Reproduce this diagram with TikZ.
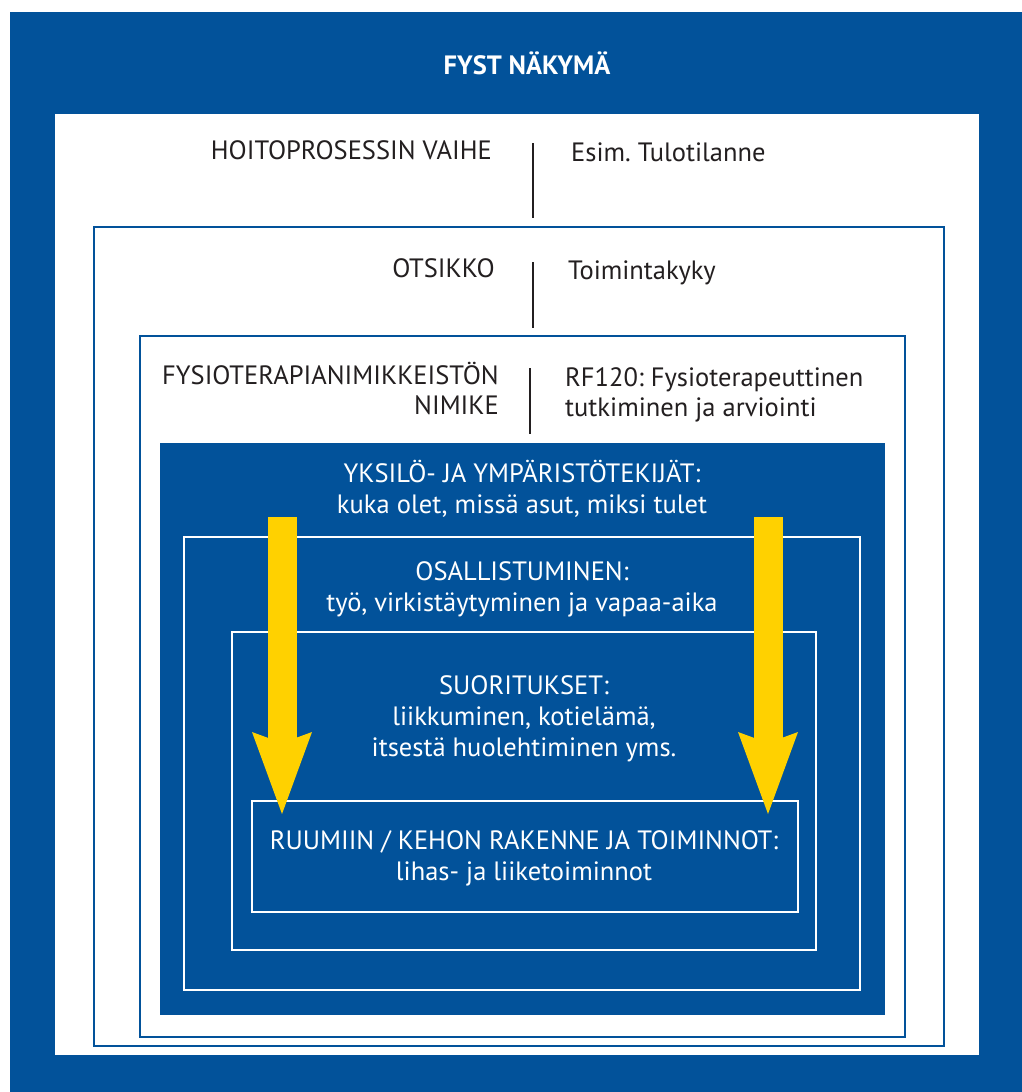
\documentclass[tikz,border=0pt]{standalone}
\usepackage{fontspec}
\setmainfont{PT Sans}
\usetikzlibrary{arrows.meta}
\definecolor{fystblue}{RGB}{2,82,154}
\definecolor{fystyellow}{RGB}{255,209,0}
\definecolor{fystgray}{RGB}{35,31,32}
\frenchspacing

\begin{document}
\begin{tikzpicture}[x=1pt,y=-1pt,line join=miter,
  dark/.style={font=\fontsize{26.5}{30}\selectfont,text=fystgray,inner sep=0pt},
  light/.style={font=\fontsize{26.5}{31}\selectfont,text=white,inner sep=0pt,align=center},
  bluebox/.style={draw=fystblue,line width=2pt},
  whitebox/.style={draw=white,line width=2pt},
  sep/.style={draw=fystgray,line width=1.6pt},
  flow/.style={draw=fystyellow,line width=29pt,-{Stealth[length=82pt,width=60pt,inset=11pt,line width=0pt]}}]
\useasboundingbox (0,0) rectangle (1022,1092);
\fill[white] (0,0) rectangle (1022,1092);
% frames
\fill[fystblue] (10,12) rectangle (1022,1092);
\fill[white] (55,114) rectangle (979,1055);
\draw[bluebox] (94,227) rectangle (944,1046);
\draw[bluebox] (140,336) rectangle (905,1037);
\fill[fystblue] (160,443) rectangle (885,1015);
\draw[whitebox] (184,537) rectangle (860,990);
\draw[whitebox] (232,632) rectangle (816,950);
\draw[whitebox] (252,801) rectangle (798,912);
% header
\node[font=\bfseries\fontsize{26.5}{30}\selectfont,text=white,inner sep=0pt,anchor=base] (title) at (527,74) {FYST NÄKYMÄ};
\node[dark,anchor=base east] (vaihe) at (492,159) {HOITOPROSESSIN VAIHE};
\node[dark,anchor=base west] (vaiheval) at (571,161) {Esim. Tulotilanne};
\node[dark,anchor=base east] (otsikko) at (495,277) {OTSIKKO};
\node[dark,anchor=base west] (otsikkoval) at (568,279) {Toimintakyky};
\node[dark,anchor=base east,align=right] (nimike) at (499,414) {FYSIOTERAPIANIMIKKEISTÖN\\NIMIKE};
\node[dark,anchor=base west,align=left] (nimikeval) at (565,416) {RF120: Fysioterapeuttinen\\tutkiminen ja arviointi};
\coordinate (sepA1) at (533,143);
\coordinate (sepA2) at (533,218);
\coordinate (sepB1) at (533,262);
\coordinate (sepB2) at (533,328);
\coordinate (sepC1) at (530,368);
\coordinate (sepC2) at (530,434);
\draw[sep] (sepA1) -- (sepA2);
\draw[sep] (sepB1) -- (sepB2);
\draw[sep] (sepC1) -- (sepC2);
% levels
\node[light,anchor=base] (yksilo) at (522,513) {YKSILÖ- JA YMPÄRISTÖTEKIJÄT:\\kuka olet, missä asut, miksi tulet};
\node[light,anchor=base] (osall) at (522,611) {OSALLISTUMINEN:\\työ, virkistäytyminen ja vapaa-aika};
\node[light,anchor=base] (suorit) at (524,756) {SUORITUKSET:\\liikkuminen, kotielämä,\\itsestä huolehtiminen yms.};
\node[light,anchor=base] (ruumiin) at (524,880) {RUUMIIN / KEHON RAKENNE JA TOIMINNOT:\\lihas- ja liiketoiminnot};
% arrows
\coordinate (flowL1) at (282,517);
\coordinate (flowL2) at (282,814);
\coordinate (flowR1) at (768,517);
\coordinate (flowR2) at (768,814);
\draw[flow] (flowL1) -- (flowL2);
\draw[flow] (flowR1) -- (flowR2);
\end{tikzpicture}
\end{document}
